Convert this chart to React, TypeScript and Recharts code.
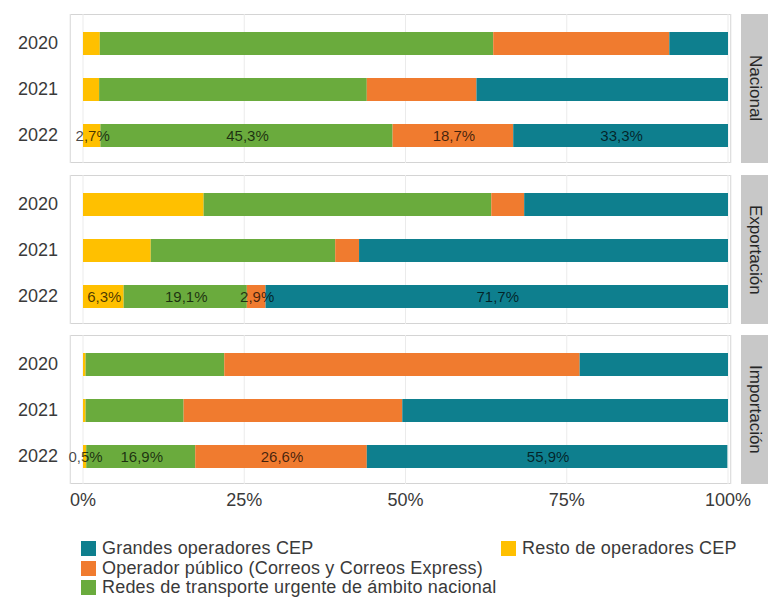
import React from "react";
import { BarChart, Bar, XAxis, YAxis, CartesianGrid, LabelList } from "recharts";

const years = ["2020", "2021", "2022"];
const panels = ["Nacional", "Exportación", "Importación"];
const xTicks = [0, 25, 50, 75, 100];

// % de envíos por tipo de operador, filas = 2020, 2021, 2022
const restoCEP = {
  Nacional: [2.6, 2.5, 2.7],
  Exportación: [18.7, 10.5, 6.3],
  Importación: [0.4, 0.4, 0.5],
};
const redesUrgente = {
  Nacional: [61.0, 41.5, 45.3],
  Exportación: [44.6, 28.6, 19.1],
  Importación: [21.5, 15.2, 16.9],
};
const operadorPublico = {
  Nacional: [27.3, 17.0, 18.7],
  Exportación: [5.1, 3.7, 2.9],
  Importación: [55.1, 33.9, 26.6],
};
const grandesCEP = {
  Nacional: [9.1, 39.0, 33.3],
  Exportación: [31.6, 57.2, 71.7],
  Importación: [23.0, 50.5, 55.9],
};

const labelledYear = "2022";

const series = [
  { key: "resto", name: "Resto de operadores CEP", color: "#ffc000", values: restoCEP },
  { key: "redes", name: "Redes de transporte urgente de ámbito nacional", color: "#6aab3d", values: redesUrgente },
  { key: "publico", name: "Operador público (Correos y Correos Express)", color: "#f07b2f", values: operadorPublico },
  { key: "grandes", name: "Grandes operadores CEP", color: "#0e7f8e", values: grandesCEP },
];

const legendCol1 = ["grandes", "publico", "redes"];
const legendCol2 = ["resto"];

const FONT = "'Liberation Sans', Arial, sans-serif";
const PANEL_TOPS = [14, 175, 335];
const PANEL_H = 149;
const PLOT_LEFT = 70;
const PLOT_RIGHT = 731;
const CHART_W = 768;

const fmt = (v: number) => v.toFixed(1).replace(".", ",") + "%";

function rowsFor(panel: string) {
  return years.map((year, i) => {
    const row: Record<string, any> = { year };
    series.forEach((s) => {
      const v = (s.values as any)[panel][i];
      row[s.key] = v;
      row[s.key + "Label"] = year === labelledYear ? v : null;
    });
    return row;
  });
}

const renderLabel = (props: any) => {
  const { x, y, width, height, value } = props;
  if (value == null) return null;
  return (
    <text
      x={Number(x) + Number(width) / 2 + 1}
      y={Number(y) + Number(height) / 2}
      textAnchor="middle"
      dominantBaseline="central"
      fontSize={15}
      fontFamily={FONT}
      fill="rgba(0,0,0,0.72)"
    >
      {fmt(Number(value))}
    </text>
  );
};

function Panel({ panel, index }: { panel: string; index: number }) {
  const last = index === panels.length - 1;
  const top = PANEL_TOPS[index];
  const h = last ? PANEL_H + 32 : PANEL_H;
  return (
    <>
      <div
        style={{
          position: "absolute",
          left: PLOT_LEFT,
          top,
          width: PLOT_RIGHT - PLOT_LEFT,
          height: PANEL_H,
          border: "1px solid #d4d4d4",
          boxSizing: "border-box",
        }}
      />
      <div style={{ position: "absolute", left: 0, top }}>
        <BarChart
          width={CHART_W}
          height={h}
          data={rowsFor(panel)}
          layout="vertical"
          margin={{ top: 0, right: CHART_W - PLOT_RIGHT, bottom: 0, left: 0 }}
          barCategoryGap={0}
        >
          <CartesianGrid horizontal={false} stroke="#ebebeb" />
          <XAxis
            type="number"
            domain={[0, 100]}
            ticks={xTicks}
            tickFormatter={(v) => `${v}%`}
            padding={{ left: 13, right: 3 }}
            hide={!last}
            height={32}
            axisLine={false}
            tickLine={false}
            tickSize={0}
            tickMargin={9}
            interval={0}
            tick={{ fontSize: 18, fill: "#3a3a3a", fontFamily: FONT }}
          />
          <YAxis
            type="category"
            dataKey="year"
            width={PLOT_LEFT}
            padding={{ top: 6, bottom: 5 }}
            axisLine={false}
            tickLine={false}
            tickSize={0}
            tickMargin={12}
            tick={{ fontSize: 18, fill: "#3a3a3a", fontFamily: FONT }}
          />
          {series.map((s) => (
            <Bar
              key={s.key}
              dataKey={s.key}
              name={s.name}
              stackId="a"
              fill={s.color}
              barSize={23}
              isAnimationActive={false}
            >
              <LabelList dataKey={s.key + "Label"} content={renderLabel} />
            </Bar>
          ))}
        </BarChart>
      </div>
      <div
        style={{
          position: "absolute",
          left: 741,
          top,
          width: 27,
          height: PANEL_H,
          background: "#c8c8c8",
          display: "flex",
          alignItems: "center",
          justifyContent: "center",
        }}
      >
        <span
          style={{
            writingMode: "vertical-rl",
            fontSize: 17,
            fontFamily: FONT,
            color: "#262626",
          }}
        >
          {panel}
        </span>
      </div>
    </>
  );
}

function LegendColumn({ keys, left }: { keys: string[]; left: number }) {
  return (
    <div style={{ position: "absolute", left, top: 539 }}>
      {keys.map((k) => {
        const s = series.find((x) => x.key === k)!;
        return (
          <div key={k} style={{ display: "flex", alignItems: "center", height: 19.5 }}>
            <div style={{ width: 15, height: 15, background: s.color, marginRight: 6 }} />
            <span
              style={{
                fontSize: 18,
                lineHeight: "19px",
                fontFamily: FONT,
                color: "#3a3a3a",
                whiteSpace: "nowrap",
                letterSpacing: 0.2,
              }}
            >
              {s.name}
            </span>
          </div>
        );
      })}
    </div>
  );
}

export default function App() {
  return (
    <div
      style={{
        position: "absolute",
        left: 0,
        top: 0,
        width: 768,
        height: 597,
        background: "#fff",
        overflow: "hidden",
      }}
    >
      {panels.map((p, i) => (
        <Panel key={p} panel={p} index={i} />
      ))}
      <LegendColumn keys={legendCol1} left={81} />
      <LegendColumn keys={legendCol2} left={501} />
    </div>
  );
}
